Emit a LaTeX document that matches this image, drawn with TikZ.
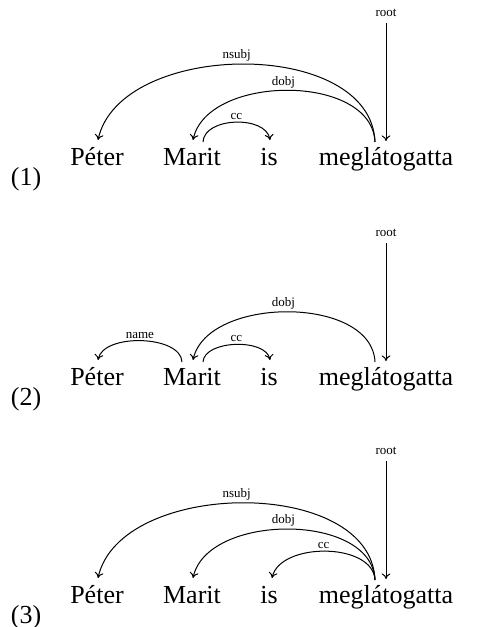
\documentclass[tikz,border=0pt]{standalone}
\usepackage{fontspec}
\setmainfont{Liberation Serif}
\usetikzlibrary{calc,arrows.meta}
\newcommand{\wordfont}{\fontsize{13}{15}\selectfont}
\newcommand{\lblfont}{\fontsize{6.5}{8}\selectfont}
\tikzset{
  word/.style={font=\wordfont, inner sep=0pt, anchor=base},
  lbl/.style={font=\lblfont, inner sep=1pt},
  arclbl/.style={lbl, pos=0.5, above},
  dep/.style={->, line width=0.5pt},
}

\begin{document}
\begin{tikzpicture}[x=0.5pt, y=-0.5pt, >={Computer Modern Rightarrow[length=2.8pt, width=4.4pt]}]
    \useasboundingbox (0,0) rectangle (494,627);

    % the three analyses: words, numbers and root
    \foreach \n/\y in {1/165,2/385,3/603} {
        \node[word] (num\n) at (26,\y+20) {(\n)};
        \node[word] (pet\n) at (97,\y) {Péter};
        \node[word] (mar\n) at (192,\y) {Marit};
        \node[word] (is\n) at (269,\y) {is};
        \node[word] (meg\n) at (386,\y) {meglátogatta};
        \coordinate (p\n) at ($(pet\n.base)+(1,-25)$);
        \coordinate (m\n) at ($(mar\n.base)+(1,-25)$);
        \coordinate (ml\n) at ($(mar\n.base)+(-10,-23)$);
        \coordinate (mr\n) at ($(mar\n.base)+(11,-23)$);
        \coordinate (i\n) at ($(is\n.base)+(1,-25)$);
        \coordinate (v\n) at ($(meg\n.base)+(-11,-23)$);
        \coordinate (top\n) at ($(meg\n.base)+(0,-24)$);
        \node[lbl] (root\n) at (386,\y-152) {root};
        \draw[dep, shorten <=2pt] (root\n) -- (top\n);
    }

    % (1)
    \draw[dep] (v1) .. controls +(-4,-105) and +(22,-100) .. (p1) node[arclbl, xshift=-3.3pt] {nsubj};
    \draw[dep] (v1) .. controls +(-3,-69) and +(14,-66) .. (m1) node[arclbl, xshift=-2.3pt] {dobj};
    \draw[dep] (mr1) .. controls +(1,-25) and +(-4,-25) .. (i1) node[arclbl, xshift=0.5pt] {cc};

    % (2)
    \draw[dep] (ml2) .. controls +(-1,-27) and +(5,-27) .. (p2) node[arclbl, xshift=-0.8pt] {name};
    \draw[dep] (mr2) .. controls +(1,-22) and +(-4,-22) .. (i2) node[arclbl, xshift=0.5pt] {cc};
    \draw[dep] (v2) .. controls +(-3,-67) and +(14,-64) .. (m2) node[arclbl, xshift=-2.3pt] {dobj};

    % (3)
    \draw[dep] (v3) .. controls +(-4,-104) and +(22,-99) .. (p3) node[arclbl, xshift=-3.3pt] {nsubj};
    \draw[dep] (v3) .. controls +(-3,-68) and +(14,-65) .. (m3) node[arclbl, xshift=-2.3pt] {dobj};
    \draw[dep] (v3) .. controls +(-2,-38) and +(8,-36) .. ([xshift=1pt]i3) node[arclbl, xshift=-1.1pt] {cc};
\end{tikzpicture}
\end{document}
